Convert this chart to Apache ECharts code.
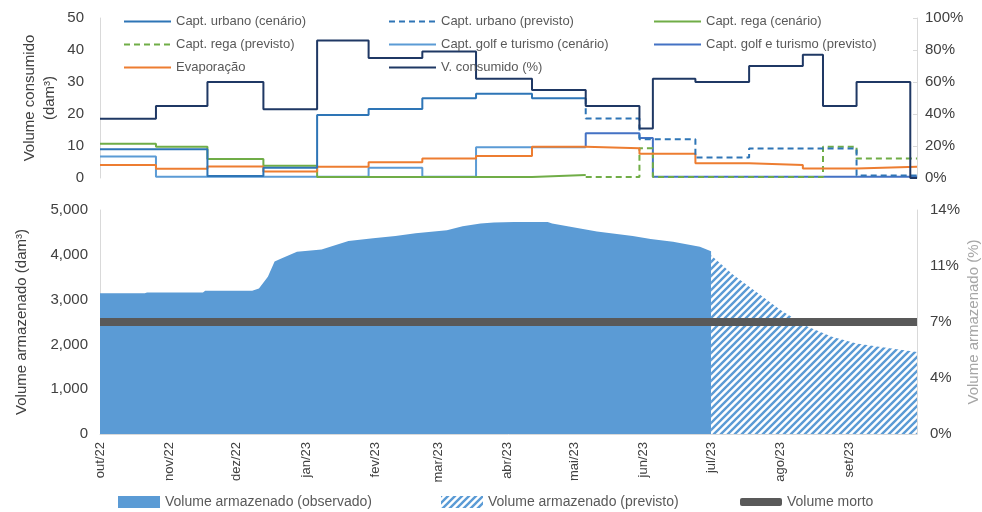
<!DOCTYPE html>
<html>
<head>
<meta charset="utf-8">
<script src="https://cdn.jsdelivr.net/npm/echarts@6/dist/echarts.min.js"></script>
<style>
html, body { margin: 0; padding: 0; background: #fff; }
#chart { width: 982px; height: 512px; }
</style>
</head>
<body>
<div id="chart"></div>
<script>
// x = days since 1 Oct 2022
var monthStarts = [0, 31, 61, 92, 123, 151, 182, 212, 243, 273, 304, 335];
var monthLabels = ['out/22', 'nov/22', 'dez/22', 'jan/23', 'fev/23', 'mar/23', 'abr/23', 'mai/23', 'jun/23', 'jul/23', 'ago/23', 'set/23'];

// top panel (steps: day where each value starts)
var urbCenDays = [0, 48, 73, 97, 120, 144, 168, 193, 217];
var urbCenVals = [9.0, 0.6, 3.2, 19.7, 21.6, 24.9, 26.3, 24.9, 24.9];
var urbPrevDays = [217, 217, 241, 266, 290, 338, 365];
var urbPrevVals = [24.9, 18.6, 12.1, 6.4, 9.2, 0.8, 0.8];
var regaCenDays = [0, 25, 48, 73, 97, 193, 217];
var regaCenVals = [10.7, 9.8, 5.9, 3.8, 0.3, 0.9, 0.9];
var regaPrevDays = [217, 241, 247, 323, 338, 365];
var regaPrevVals = [0.3, 9.3, 0.3, 9.8, 6.1, 6.1];
var golfCenDays = [0, 25, 120, 144, 168, 217];
var golfCenVals = [6.7, 0.4, 3.2, 0.4, 9.6, 9.6];
var golfPrevDays = [217, 217, 241, 247, 365];
var golfPrevVals = [9.6, 14.0, 12.5, 0.4, 0.4];
var evapDays = [0, 25, 48, 73, 97, 120, 144, 168, 193, 217, 241, 266, 290, 314, 338, 365];
var evapVals = [4.1, 2.9, 3.6, 2.0, 3.5, 4.9, 6.1, 6.9, 9.8, 9.3, 7.6, 4.6, 4.1, 3.0, 3.5, 3.5];
var consDays = [0, 25, 48, 73, 97, 120, 144, 168, 193, 217, 241, 247, 266, 290, 314, 323, 338, 362, 365];
var consVals = [37, 45, 60, 43, 86, 75, 79, 62, 55, 45, 31, 62, 60, 70, 77, 45, 60, 0, 0];

// bottom panel
var obsDays = [0, 20, 21, 46, 47, 68, 71, 75, 78, 81, 88, 99, 111, 122, 132, 141, 155, 162, 170, 176, 185, 200, 202, 222, 238, 246, 256, 268, 273];
var obsVals = [3140, 3140, 3160, 3160, 3200, 3200, 3250, 3510, 3850, 3920, 4070, 4120, 4310, 4370, 4420, 4480, 4550, 4640, 4700, 4720, 4730, 4730, 4700, 4520, 4420, 4350, 4290, 4180, 4080];
var prevDays = [273, 283, 294, 304, 316, 327, 338, 348, 365];
var prevVals = [3990, 3550, 3140, 2770, 2400, 2170, 2020, 1950, 1830];
var mortoDays = [0, 365];
var mortoVals = [2500, 2500];

var FONT = 'Liberation Sans';
var AXIS_GREY = '#D9D9D9';
var TXT = '#404040';

function pairs(days, vals) {
    return days.map(function (d, i) { return [d, vals[i]]; });
}

// diagonal stripes for the forecast area
function makeHatch(color) {
    var c = document.createElement('canvas');
    c.width = 7;
    c.height = 7;
    var ctx = c.getContext('2d');
    ctx.fillStyle = '#fff';
    ctx.fillRect(0, 0, 7, 7);
    ctx.strokeStyle = color;
    ctx.lineWidth = 2.4;
    ctx.beginPath();
    ctx.moveTo(-1, 8); ctx.lineTo(8, -1);
    ctx.moveTo(-1, 1); ctx.lineTo(1, -1);
    ctx.moveTo(6, 8); ctx.lineTo(8, 6);
    ctx.stroke();
    return c;
}
var hatch = { image: makeHatch('#5B9BD5'), repeat: 'repeat' };

function stepLine(name, days, vals, color, yIdx, dashed) {
    return {
        type: 'line', name: name, xAxisIndex: 0, yAxisIndex: yIdx,
        data: pairs(days, vals), step: 'end', symbol: 'none',
        lineStyle: { color: color, width: 2, type: dashed ? [6, 4] : 'solid' },
        itemStyle: { color: color }
    };
}

var topLegend = {
    orient: 'vertical', top: 10, itemWidth: 47, itemHeight: 12, itemGap: 10,
    selectedMode: false,
    itemStyle: { opacity: 0 },
    textStyle: { color: '#595959', fontSize: 13, fontFamily: FONT }
};
function legendAt(left, names) {
    return Object.assign({}, topLegend, { left: left, data: names });
}

var bottomLegendText = { color: '#595959', fontSize: 14, fontFamily: FONT };

var myChart = echarts.init(document.getElementById('chart'));
myChart.setOption({
    animation: false,
    textStyle: { fontFamily: FONT },
    grid: [
        { left: 100, right: 65, top: 18, height: 160, outerBoundsMode: 'none' },
        { left: 100, right: 65, top: 210, height: 224, outerBoundsMode: 'none' }
    ],
    legend: [
        legendAt(118, ['Capt. urbano (cenário)', 'Capt. rega (previsto)', 'Evaporação']),
        legendAt(383, ['Capt. urbano (previsto)', 'Capt. golf e turismo (cenário)', 'V. consumido (%)']),
        legendAt(648, ['Capt. rega (cenário)', 'Capt. golf e turismo (previsto)']),
        {
            left: 113, top: 490, itemWidth: 42, itemHeight: 12, selectedMode: false,
            textStyle: bottomLegendText,
            data: [{ name: 'Volume armazenado (observado)', icon: 'rect', itemStyle: { color: '#5B9BD5' } }]
        },
        {
            left: 436, top: 490, itemWidth: 42, itemHeight: 12, selectedMode: false,
            textStyle: bottomLegendText,
            data: [{ name: 'Volume armazenado (previsto)', icon: 'rect', itemStyle: { color: hatch } }]
        },
        {
            left: 735, top: 490, itemWidth: 42, itemHeight: 8, selectedMode: false,
            textStyle: bottomLegendText,
            data: [{ name: 'Volume morto', icon: 'roundRect', itemStyle: { color: '#595959' } }]
        }
    ],
    xAxis: [
        { type: 'value', gridIndex: 0, min: 0, max: 365, show: false },
        {
            type: 'value', gridIndex: 1, min: 0, max: 365,
            axisLine: { lineStyle: { color: AXIS_GREY } },
            axisTick: { show: false },
            splitLine: { show: false },
            axisLabel: {
                customValues: monthStarts,
                formatter: function (v) { return monthLabels[monthStarts.indexOf(v)]; },
                rotate: 90, color: TXT, fontSize: 13, margin: 8
            }
        }
    ],
    yAxis: [
        {
            type: 'value', gridIndex: 0, min: 0, max: 50, interval: 10,
            name: 'Volume consumido\n(dam³)', nameLocation: 'middle', nameGap: 40,
            nameMoveOverlap: false,
            nameTextStyle: { fontSize: 15, color: TXT, lineHeight: 20 },
            axisLine: { show: true, lineStyle: { color: AXIS_GREY } },
            axisTick: { show: false }, splitLine: { show: false },
            axisLabel: { fontSize: 15, color: TXT, margin: 16 }
        },
        {
            type: 'value', gridIndex: 0, min: 0, max: 100, interval: 20, position: 'right',
            axisLine: { show: true, lineStyle: { color: AXIS_GREY } },
            axisTick: { show: true, inside: true, length: 4, lineStyle: { color: AXIS_GREY } },
            splitLine: { show: false },
            axisLabel: { formatter: '{value}%', fontSize: 15, color: TXT, margin: 8 }
        },
        {
            type: 'value', gridIndex: 1, min: 0, max: 5000, interval: 1000,
            name: 'Volume armazenado (dam³)', nameLocation: 'middle', nameGap: 71,
            nameMoveOverlap: false,
            nameTextStyle: { fontSize: 15, color: TXT },
            axisLine: { show: true, lineStyle: { color: AXIS_GREY } },
            axisTick: { show: false }, splitLine: { show: false },
            axisLabel: {
                fontSize: 15, color: TXT, margin: 12,
                formatter: function (v) { return v.toLocaleString('en-US'); }
            }
        },
        {
            type: 'value', gridIndex: 1, min: 0, max: 14, interval: 3.5, position: 'right',
            name: 'Volume armazenado (%)', nameLocation: 'middle', nameGap: 49,
            nameMoveOverlap: false,
            nameTextStyle: { fontSize: 15, color: '#A6A6A6' },
            axisLine: { show: true, lineStyle: { color: AXIS_GREY } },
            axisTick: { show: false }, splitLine: { show: false },
            axisLabel: {
                fontSize: 15, color: TXT, margin: 13,
                formatter: function (v) { return Math.round(v) + '%'; }
            }
        }
    ],
    series: [
        stepLine('Capt. golf e turismo (cenário)', golfCenDays, golfCenVals, '#5B9BD5', 0, false),
        stepLine('Capt. golf e turismo (previsto)', golfPrevDays, golfPrevVals, '#4472C4', 0, false),
        stepLine('Capt. rega (cenário)', regaCenDays, regaCenVals, '#70AD47', 0, false),
        stepLine('Capt. rega (previsto)', regaPrevDays, regaPrevVals, '#70AD47', 0, true),
        stepLine('Evaporação', evapDays, evapVals, '#ED7D31', 0, false),
        stepLine('Capt. urbano (cenário)', urbCenDays, urbCenVals, '#2E75B6', 0, false),
        stepLine('Capt. urbano (previsto)', urbPrevDays, urbPrevVals, '#2E75B6', 0, true),
        stepLine('V. consumido (%)', consDays, consVals, '#1F3864', 1, false),
        {
            type: 'line', name: 'Volume armazenado (observado)', xAxisIndex: 1, yAxisIndex: 2,
            data: pairs(obsDays, obsVals), symbol: 'none',
            lineStyle: { width: 0 }, itemStyle: { color: '#5B9BD5' },
            areaStyle: { color: '#5B9BD5', opacity: 1 }
        },
        {
            type: 'line', name: 'Volume armazenado (previsto)', xAxisIndex: 1, yAxisIndex: 2,
            data: pairs(prevDays, prevVals), symbol: 'none',
            lineStyle: { width: 0 }, itemStyle: { color: '#5B9BD5' },
            areaStyle: { color: hatch, opacity: 1 }
        },
        {
            type: 'line', name: 'Volume morto', xAxisIndex: 1, yAxisIndex: 2,
            data: pairs(mortoDays, mortoVals), symbol: 'none', z: 5,
            lineStyle: { color: '#595959', width: 8 }, itemStyle: { color: '#595959' }
        }
    ]
});
</script>
</body>
</html>
